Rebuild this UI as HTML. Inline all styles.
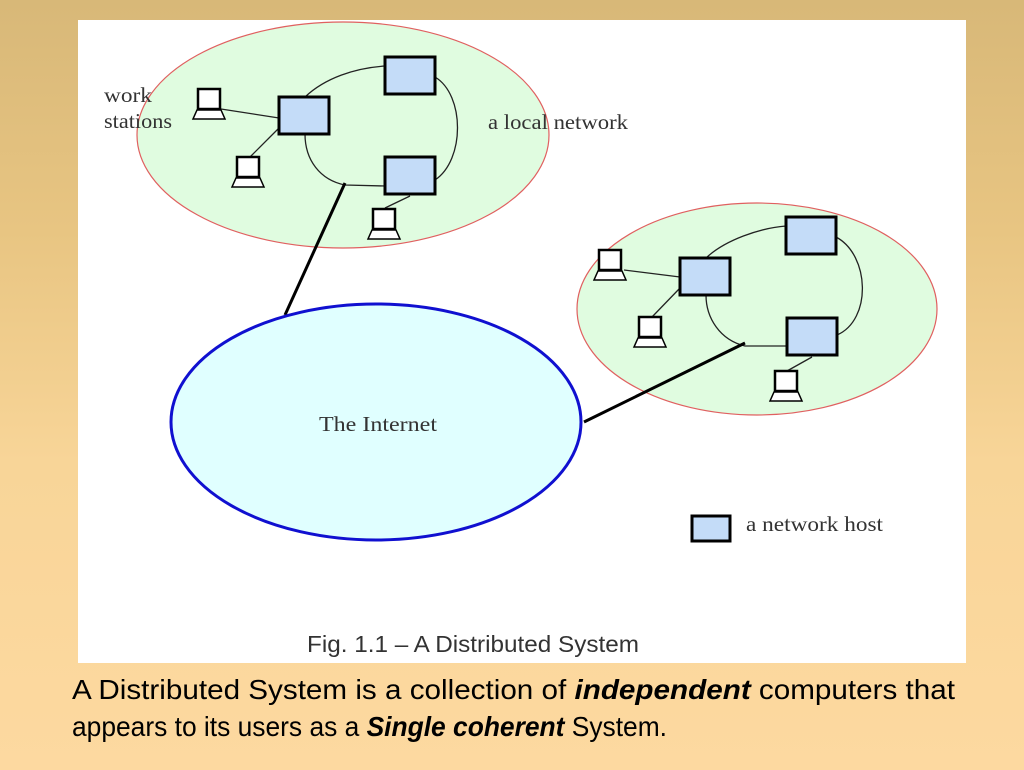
<!DOCTYPE html>
<html><head><meta charset="utf-8"><style>
html,body{margin:0;padding:0;width:1024px;height:770px;overflow:hidden}
body{background:linear-gradient(#d8b878 0%,#e8c582 30%,#f8d598 60%,#fdd9a0 100%)}
</style></head><body>
<svg width="1024" height="770" viewBox="0 0 1024 770" xmlns="http://www.w3.org/2000/svg">
<defs>
<g id="ws">
<rect x="2" y="0" width="22" height="20" fill="#fff" stroke="#000" stroke-width="2.5"/>
<polygon points="1,21 25,21 29,30 -3,30" fill="#fff" stroke="#000" stroke-width="1.5"/>
</g>
<rect id="host" x="0" y="0" width="50" height="37" fill="#c4dcf8" stroke="#000" stroke-width="3"/>
</defs>
<rect x="78" y="20" width="888" height="643" fill="#fff"/>
<ellipse cx="343" cy="135" rx="206" ry="113" fill="#e0fce0" stroke="#e06060" stroke-width="1.2"/>
<g fill="none" stroke="#222" stroke-width="1.3">
<path d="M305,97 C325,78 355,68 385,66"/>
<path d="M435,77 C465,95 465,160 435,180"/>
<path d="M385,186 L345,185 C320,180 305,160 305,134"/>
<line x1="221" y1="109" x2="279" y2="118"/>
<line x1="250" y1="157" x2="279" y2="128"/>
<line x1="385" y1="208" x2="410" y2="196"/>
</g>
<use href="#host" x="279" y="97"/>
<use href="#host" x="385" y="57"/>
<use href="#host" x="385" y="157"/>
<use href="#ws" x="196" y="89"/>
<use href="#ws" x="235" y="157"/>
<use href="#ws" x="371" y="209"/>
<ellipse cx="757" cy="309" rx="180" ry="106" fill="#e0fce0" stroke="#e06060" stroke-width="1.2"/>
<g fill="none" stroke="#222" stroke-width="1.3">
<path d="M706,258 C725,240 760,228 786,226"/>
<path d="M836,237 C870,255 872,320 837,335"/>
<path d="M787,346 L745,346 C720,340 706,318 706,295"/>
<line x1="624" y1="270" x2="680" y2="277"/>
<line x1="652" y1="317" x2="680" y2="288"/>
<line x1="787" y1="371" x2="812" y2="357"/>
</g>
<use href="#host" x="680" y="258"/>
<use href="#host" x="786" y="217"/>
<use href="#host" x="787" y="318"/>
<use href="#ws" x="597" y="250"/>
<use href="#ws" x="637" y="317"/>
<use href="#ws" x="773" y="371"/>
<line x1="345" y1="183" x2="285" y2="315" stroke="#000" stroke-width="3"/>
<line x1="745" y1="343" x2="584" y2="422" stroke="#000" stroke-width="3"/>
<ellipse cx="376" cy="422" rx="205" ry="118" fill="#e0ffff" stroke="#1010d0" stroke-width="3"/>
<g font-family="Liberation Serif, serif" font-size="21" fill="#333">
<text x="104" y="102" textLength="48" lengthAdjust="spacingAndGlyphs">work</text>
<text x="104" y="128" textLength="68" lengthAdjust="spacingAndGlyphs">stations</text>
<text x="488" y="129" textLength="140" lengthAdjust="spacingAndGlyphs">a local network</text>
<text x="319" y="431" textLength="118" lengthAdjust="spacingAndGlyphs">The  Internet</text>
<text x="746" y="531" textLength="137" lengthAdjust="spacingAndGlyphs">a network host</text>
</g>
<rect x="692" y="516" width="38" height="25" fill="#c4dcf8" stroke="#000" stroke-width="3"/>
<g font-family="Liberation Sans, sans-serif">
<text x="307" y="652" font-size="23" fill="#333" textLength="332" lengthAdjust="spacingAndGlyphs">Fig. 1.1 – A Distributed System</text>
<text x="72" y="699" font-size="28" fill="#000" textLength="883" lengthAdjust="spacingAndGlyphs">A Distributed System is a collection of <tspan font-weight="bold" font-style="italic">independent</tspan> computers that</text>
<text x="72" y="736" font-size="28" fill="#000" textLength="595" lengthAdjust="spacingAndGlyphs">appears to its users as a <tspan font-weight="bold" font-style="italic">Single coherent</tspan> System.</text>
</g>
</svg>
</body></html>
